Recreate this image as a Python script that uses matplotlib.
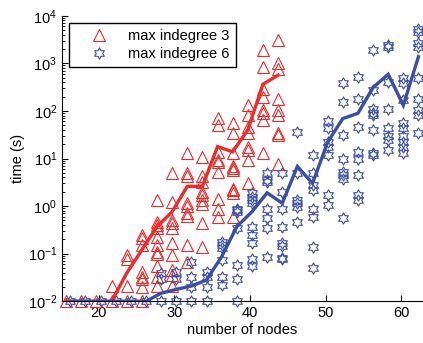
import numpy as np
import matplotlib
matplotlib.use("Agg")
import matplotlib.pyplot as plt
from matplotlib.path import Path
from matplotlib.lines import Line2D
from matplotlib.ticker import NullFormatter

plt.rcParams['font.family'] = ['Liberation Sans', 'DejaVu Sans']
plt.rcParams['mathtext.default'] = 'regular'

# ---------------- data ----------------
red_nodes = [16, 18, 20, 22, 24, 26, 28, 30, 32, 34, 36, 38, 40, 42, 44]
red_times = [
    [0.01],
    [0.01],
    [0.01],
    [0.021, 0.01],
    [0.093, 0.076, 0.021, 0.01],
    [0.25, 0.21, 0.15, 0.042, 0.033, 0.029, 0.020, 0.01],
    [1.35, 0.47, 0.40, 0.34, 0.22, 0.15, 0.11, 0.098, 0.054, 0.033, 0.021],
    [4.9, 1.23, 0.51, 0.44, 0.34, 0.166, 0.093, 0.046, 0.035, 0.021],
    [12.9, 4.9, 4.2, 1.15, 1.0, 0.71, 0.62, 0.15, 0.068],
    [11, 4.2, 3.2, 2.0, 1.7, 1.35, 1.1, 0.44, 0.14],
    [72, 50, 13.8, 9.3, 8.5, 5.2, 1.38, 0.89, 0.6],
    [55, 35, 12.9, 6.8, 6.2, 5.75, 2.3, 2.2, 1.9, 0.6],
    [132, 81, 47, 34, 17.8, 15, 9.3, 3.0],
    [1900, 850, 295, 200, 105, 89, 65, 12.9],
    [3160, 1000, 776, 174, 105, 81, 34, 31, 7.6],
]
red_line = [0.01, 0.01, 0.01, 0.01, 0.039, 0.12, 0.37, 0.76, 2.6, 2.6,
            17.8, 13.8, 40, 363, 562]

blue_nodes = [16, 18, 20, 22, 24, 26, 28, 30, 32, 34, 36, 38, 40, 42, 44,
              46, 48, 50, 52, 54, 56, 58, 60, 62]
blue_times = [
    [0.01], [0.01], [0.01], [0.01], [0.01], [0.01],
    [0.039, 0.029, 0.01],
    [0.042, 0.030, 0.01],
    [0.068, 0.033, 0.020, 0.01],
    [0.042, 0.033, 0.020, 0.01],
    [0.178, 0.151, 0.129, 0.074, 0.033, 0.022],
    [0.89, 0.83, 0.76, 0.34, 0.058, 0.030, 0.01],
    [1.86, 1.58, 1.35, 1.15, 0.37, 0.245, 0.166, 0.079, 0.054],
    [4.9, 3.55, 3.2, 0.89, 0.55, 0.34, 0.087],
    [4.9, 2.0, 0.89, 0.37, 0.166, 0.145, 0.083, 0.076],
    [36, 5.0, 1.35, 1.15, 0.98, 0.47],
    [11.7, 4.9, 2.8, 2.2, 0.89, 0.6, 0.14, 0.049],
    [62, 43, 22, 17.8, 11.7, 1.7, 1.05],
    [380, 155, 31, 10, 5.2, 4.5, 3.8, 0.55],
    [525, 182, 47, 13.8, 10, 4.5, 1.7, 1.35],
    [1900, 275, 112, 89, 81, 40, 12.9, 11.7],
    [2400, 2240, 407, 112, 43, 29, 24.5, 15],
    [480, 380, 170, 55, 43, 29, 22, 17.8, 12.9],
    [5370, 4570, 2630, 2240, 480, 182, 105, 81, 34],
]
blue_line = [0.01, 0.01, 0.01, 0.01, 0.01, 0.01, 0.0148, 0.0178, 0.021, 0.028,
             0.087, 0.37, 0.76, 1.9, 1.15, 6.8, 3.0, 22, 69, 89, 309, 589,
             132, 1380]

labels = ["max indegree 3", "max indegree 6"]
x_ticks = [20, 30, 40, 50, 60]

red_col = '#ee2b2b'
blue_col = '#3a4fa3'

# 6-pointed star (hexagram) marker
ang = np.pi / 2 + np.arange(12) * np.pi / 6
rad = np.where(np.arange(12) % 2 == 0, 1.0, 1 / np.sqrt(3))
verts = np.column_stack([rad * np.cos(ang), rad * np.sin(ang)])
verts = np.vstack([verts, verts[:1]])
codes = [Path.MOVETO] + [Path.LINETO] * 11 + [Path.CLOSEPOLY]
hexagram = Path(verts, codes)

red_off = -0.3
blue_off = 0.25

fig = plt.figure(figsize=(4.23, 3.43), dpi=100)
ax = fig.add_axes([62 / 423, 0.1216, 361 / 423, 0.8326])

for n, ts in zip(red_nodes, red_times):
    ax.plot([n + red_off] * len(ts), ts, linestyle='none', marker='^',
            markersize=8, markerfacecolor='none', markeredgecolor=red_col,
            markeredgewidth=0.8, clip_on=False)
for n, ts in zip(blue_nodes, blue_times):
    ax.plot([n + blue_off] * len(ts), ts, linestyle='none', marker=hexagram,
            markersize=8, markerfacecolor='none', markeredgecolor=blue_col,
            markeredgewidth=0.8, clip_on=False)

ax.plot(np.array(red_nodes) + red_off, red_line, color=red_col, lw=2.4,
        solid_joinstyle='miter')
ax.plot(np.array(blue_nodes) + blue_off, blue_line, color=blue_col, lw=2.4,
        solid_joinstyle='miter')

ax.set_yscale('log')
ax.set_ylim(1e-2, 1e4)
ax.set_xlim(15.15, 62.85)
ax.set_xticks(x_ticks)
ax.yaxis.set_minor_formatter(NullFormatter())
ax.spines['top'].set_visible(False)
ax.spines['right'].set_visible(False)
ax.tick_params(which='both', direction='in', labelsize=10.5)
ax.tick_params(which='major', length=4)
ax.tick_params(which='minor', length=2)
ax.set_xlabel("number of nodes", fontsize=10.5, labelpad=2)
ax.set_ylabel("time (s)", fontsize=10.5, labelpad=2)

handles = [
    Line2D([], [], linestyle='none', marker='^', markersize=8,
           markerfacecolor='none', markeredgecolor=red_col, markeredgewidth=0.8),
    Line2D([], [], linestyle='none', marker=hexagram, markersize=8,
           markerfacecolor='none', markeredgecolor=blue_col, markeredgewidth=0.8),
]
leg = ax.legend(handles, labels, loc='upper left',
                bbox_to_anchor=(69 / 423, 1 - 23 / 343),
                bbox_transform=fig.transFigure, fontsize=10.5,
                fancybox=False, edgecolor='black', framealpha=1,
                borderaxespad=0, handlelength=3.34, handletextpad=0.34,
                borderpad=0.4, labelspacing=0.3)
leg.get_frame().set_linewidth(1.0)

fig.savefig("out.png", dpi=100)
